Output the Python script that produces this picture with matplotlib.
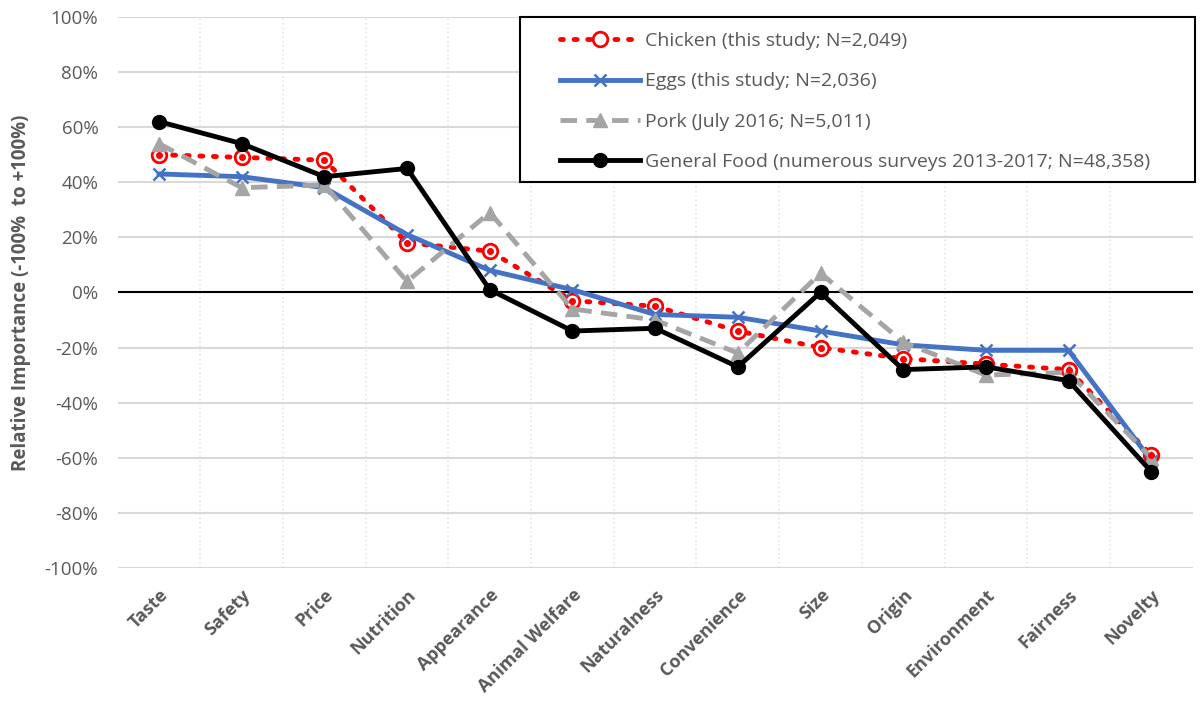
import matplotlib.pyplot as plt
from matplotlib.patches import Rectangle
from matplotlib.ticker import FuncFormatter, FixedLocator

categories = ["Taste", "Safety", "Price", "Nutrition", "Appearance", "Animal Welfare",
              "Naturalness", "Convenience", "Size", "Origin", "Environment", "Fairness", "Novelty"]

chicken = [50, 49, 48, 18, 15, -3, -5, -14, -20, -24, -26, -28, -59]
eggs = [43, 42, 38, 21, 8, 1, -8, -9, -14, -19, -21, -21, -61]
pork = [54, 38, 39, 4, 29, -6, -10, -22, 7, -18, -30, -29, -60]
general = [62, 54, 42, 45, 1, -14, -13, -27, 0, -28, -27, -32, -65]

labels = ["Chicken (this study; N=2,049)",
          "Eggs (this study; N=2,036)",
          "Pork (July 2016; N=5,011)",
          "General Food (numerous surveys 2013-2017; N=48,358)"]

plt.rcParams['font.family'] = ['Open Sans', 'DejaVu Sans']
txt = "#595959"

fig = plt.figure(figsize=(12.01, 7.03), dpi=100)
ax = fig.add_axes([0.098, 0.192, 0.895, 0.784])

x = list(range(len(categories)))

ax.plot(x, chicken, color="#FF0000", linestyle=(0, (0.6, 2.2)), dash_capstyle="round",
        linewidth=3.5, marker="o", markersize=10.5, markerfacecolor="white",
        markeredgecolor="#FF0000", markeredgewidth=2, label=labels[0], zorder=3)
ax.plot(x, chicken, linestyle="none", marker="o", markersize=4, color="#FF0000", zorder=4)
ax.plot(x, eggs, color="#4472C4", linewidth=3.5, marker="x", markersize=8,
        markeredgewidth=1.8, label=labels[1], zorder=3)
ax.plot(x, pork, color="#A5A5A5", linestyle=(0, (3.4, 1.9)), linewidth=3.5, marker="^",
        markersize=10.5, label=labels[2], zorder=3)
ax.plot(x, general, color="black", linewidth=3.5, marker="o", markersize=10,
        label=labels[3], zorder=5)

ax.set_xlim(-0.5, len(categories) - 0.5)
ax.set_ylim(-100, 100)
ax.set_yticks(range(-100, 101, 20))
ax.yaxis.set_major_formatter(FuncFormatter(lambda v, p: f"{int(v)}%"))
ax.set_xticks(x)
ax.set_xticklabels(categories, rotation=45, ha="right", rotation_mode="anchor",
                   fontweight="bold", color=txt, fontsize=13)
ax.xaxis.set_minor_locator(FixedLocator([i + 0.5 for i in x[:-1]]))
ax.tick_params(axis="y", labelsize=13.5, colors=txt, length=0, pad=14)
ax.tick_params(axis="x", length=0, pad=13)
ax.tick_params(which="minor", length=0)

ax.grid(axis="y", which="major", color="#D9D9D9", linewidth=1.5, zorder=0)
ax.grid(axis="x", which="minor", color="#E6E6E6", linestyle=":", linewidth=1.2, zorder=0)
ax.axhline(0, color="black", linewidth=1.5, zorder=2)
for s in ax.spines.values():
    s.set_visible(False)

ax.set_ylabel("Relative Importance (-100%  to +100%)", fontweight="bold", color=txt,
              fontsize=13.5, labelpad=10)

# legend box drawn separately so the padding can differ per side
box = Rectangle((520 / 1201, 1 - 182 / 703), 675 / 1201, 165 / 703,
                transform=fig.transFigure, facecolor="white", edgecolor="black",
                linewidth=1.5, zorder=6, clip_on=False)
ax.add_patch(box)
leg = ax.legend(loc="upper left", bbox_to_anchor=(560 / 1201, 1 - 32 / 703),
                bbox_transform=fig.transFigure, fontsize=14, frameon=False,
                handlelength=4.1, borderpad=0, labelspacing=1.15, borderaxespad=0,
                handletextpad=0.25)
leg.set_zorder(7)
for t in leg.get_texts():
    t.set_color(txt)

fig.savefig("out.png", dpi=100)
